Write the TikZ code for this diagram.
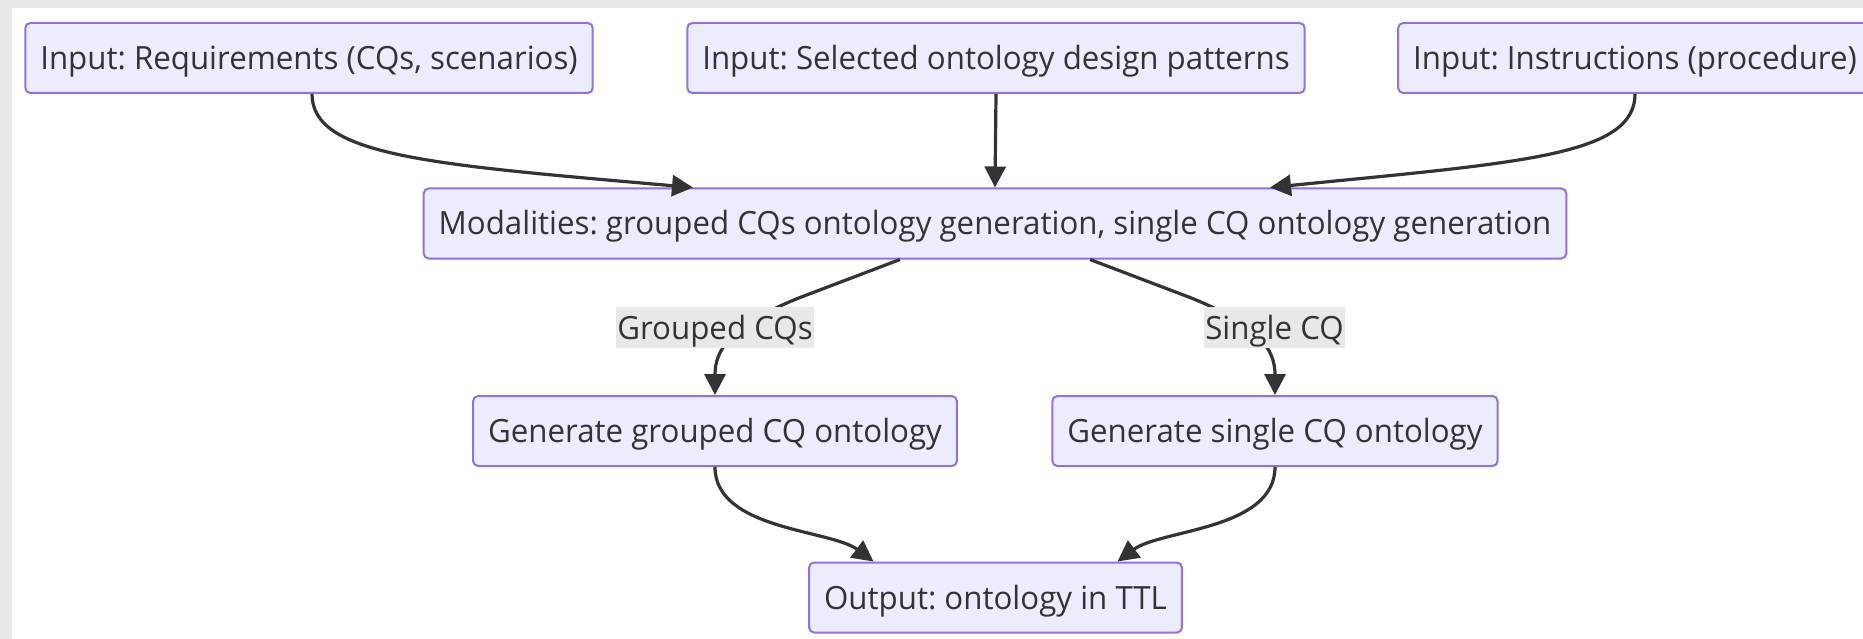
\documentclass[tikz,border=0pt]{standalone}
\usepackage{fontspec}
\setmainfont[FakeStretch=0.977]{Open Sans}
\usetikzlibrary{arrows.meta}
\definecolor{boxfill}{HTML}{ECECFF}
\definecolor{boxline}{HTML}{9370DB}
\definecolor{ink}{HTML}{333333}
\definecolor{lblbg}{HTML}{E8E8E8}
\definecolor{framegray}{HTML}{E9E9E9}
\frenchspacing
\begin{document}
\begin{tikzpicture}[x=1pt,y=-1pt,
  stepbox/.style={draw=boxline, line width=2pt, fill=boxfill, rounded corners=5pt,
    minimum height=70pt, inner xsep=15pt, inner ysep=0pt, text=ink,
    text height=23pt, text depth=0pt, font=\fontsize{32}{38}\selectfont},
  edgelbl/.style={fill=lblbg, text=ink, inner xsep=1pt, inner ysep=0pt,
    minimum height=41pt, text height=23pt, text depth=0pt,
    font=\fontsize{32}{38}\selectfont},
  flow/.style={draw=ink, line width=3.2pt, -{Triangle[length=21pt,width=21pt]}}]
\useasboundingbox (0,0) rectangle (1863,639);
\clip (0,0) rectangle (1863,639);
% page frame
\fill[framegray] (0,0) rectangle (1863,639);
\fill[white] (12,8) rectangle (1863,639);

% inputs
\node[stepbox] (req) at (309,58) {Input: Requirements (CQs, scenarios)};
\node[stepbox] (odp) at (996,58) {Input: Selected ontology design patterns};
\node[stepbox] (ins) at (1635,58) {Input: Instructions (procedure)};
% modalities
\node[stepbox] (mod) at (995,223.5) {Modalities: grouped CQs ontology generation, single CQ ontology generation};
% generation steps
\node[stepbox] (gen1) at (715,431) {Generate grouped CQ ontology};
\node[stepbox] (gen2) at (1275,431) {Generate single CQ ontology};
% output
\node[stepbox] (out) at (995.5,597.5) {Output: ontology in TTL};

% inputs into modalities
\draw[flow] ([xshift=3pt]req.south) .. controls +(0,62) and +(-263,-23) .. ([xshift=-302pt]mod.north);
\draw[flow] (odp.south) -- (mod.north);
\draw[flow] (ins.south) .. controls +(0,62) and +(250,-25) .. ([xshift=275pt]mod.north);

% modality branches
\draw[flow] ([xshift=-95pt]mod.south) -- ++(-100,38) .. controls +(-70,28) and +(0,-45) .. (gen1.north);
\draw[flow] ([xshift=95pt]mod.south) -- ++(100,38) .. controls +(70,28) and +(0,-45) .. (gen2.north);
\node[edgelbl] (lgrp) at (715,327.5) {Grouped CQs};
\node[edgelbl] (lsgl) at (1274.5,327.5) {Single CQ};

% into the output
\draw[flow] (gen1.south) .. controls +(0,63) and +(-43,-32) .. ([xshift=-122pt]out.north);
\draw[flow] (gen2.south) .. controls +(0,63) and +(43,-32) .. ([xshift=122pt]out.north);
\end{tikzpicture}
\end{document}
